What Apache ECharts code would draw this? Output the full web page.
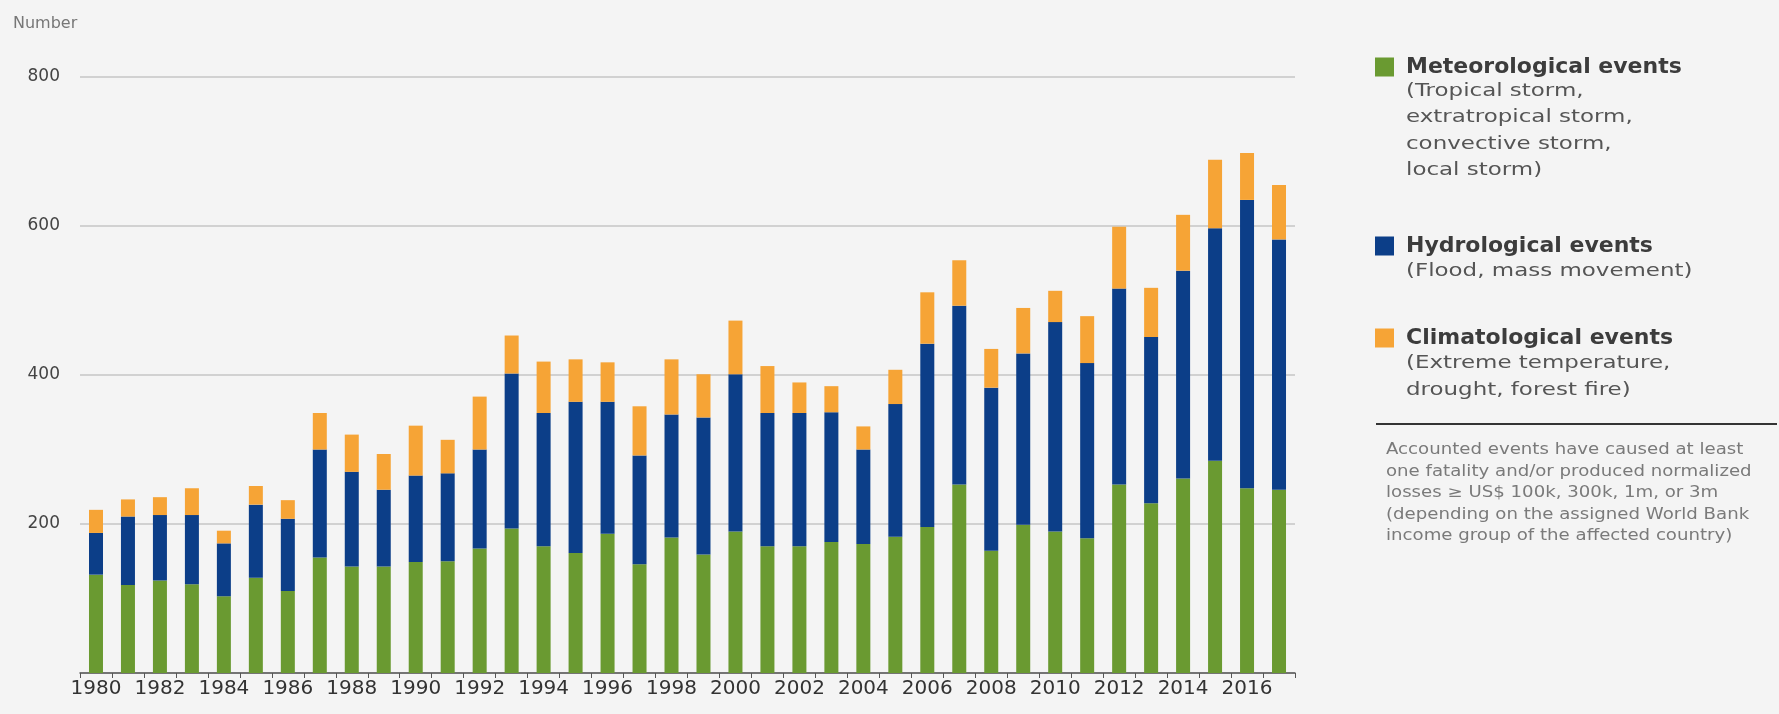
<!DOCTYPE html>
<html>
<head>
<meta charset="utf-8">
<script src="https://cdn.jsdelivr.net/npm/echarts@6/dist/echarts.min.js"></script>
<style>
html,body{margin:0;padding:0;background:#f4f4f4;}
#chart{width:1779px;height:714px;}
</style>
</head>
<body>
<div id="chart"></div>
<script>
const years = ['1980','1981','1982','1983','1984','1985','1986','1987','1988','1989','1990','1991','1992','1993','1994','1995','1996','1997','1998','1999','2000','2001','2002','2003','2004','2005','2006','2007','2008','2009','2010','2011','2012','2013','2014','2015','2016','2017'];
const meteorological = [132,118,124,119,103,128,110,155,143,143,149,150,167,194,170,161,187,146,182,159,190,170,170,176,173,183,196,253,164,199,190,181,253,228,261,285,248,246];
const hydrological = [56,92,88,93,71,98,97,145,127,103,116,118,133,208,179,203,177,146,165,184,211,179,179,174,127,178,246,240,219,230,281,235,263,223,279,312,387,336];
const climatological = [31,23,24,36,17,25,25,49,50,48,67,45,71,51,69,57,53,66,74,58,72,63,41,35,31,46,69,61,52,61,42,63,83,66,75,92,63,73];
const seriesNames = ['Meteorological events','Hydrological events','Climatological events'];
const seriesColors = ['#6a9a31','#0c3e88','#f6a436'];
const yTicks = [0,200,400,600,800];
const descriptions = [
  ['(Tropical storm,','extratropical storm,','convective storm,','local storm)'],
  ['(Flood, mass movement)'],
  ['(Extreme temperature,','drought, forest fire)']
];
const footnote = ['Accounted events have caused at least','one fatality and/or produced normalized','losses \u2265 US$ 100k, 300k, 1m, or 3m','(depending on the assigned World Bank','income group of the affected country)'];

const FONT = 'DejaVu Sans';
const chart = echarts.init(document.getElementById('chart'));

const legendTops = [66, 245, 337];
const descTops = [[92,118,145,171],[272],[364,391]];
const footTops = [450,472,493,515,536];

const graphics = [];
descriptions.forEach((lines,i)=>{
  lines.forEach((t,j)=>{
    graphics.push({type:'text', x:1406, y:descTops[i][j], scaleX:1.35, originX:0, originY:0,
      style:{text:t, fill:'#555', fontSize:17, fontFamily:FONT, verticalAlign:'middle', align:'left'}});
  });
});
graphics.push({type:'line', shape:{x1:1376,y1:424,x2:1777,y2:424}, style:{stroke:'#333',lineWidth:2}});
footnote.forEach((t,j)=>{
  graphics.push({type:'text', x:1386, y:footTops[j], scaleX:1.21, originX:0, originY:0,
    style:{text:t, fill:'#7a7a7a', fontSize:15, fontFamily:FONT, verticalAlign:'middle', align:'left'}});
});

const option = {
  backgroundColor:'#f4f4f4',
  animation:false,
  title:{text:'Number', left:8, top:11, textStyle:{fontSize:16, fontWeight:'normal', color:'#777', fontFamily:FONT}},
  legend: seriesNames.map((n,i)=>({
    data:[n], orient:'vertical', left:1375, top:legendTops[i]-10, padding:0,
    icon:'rect', itemWidth:19, itemHeight:19, selectedMode:false,
    textStyle:{fontSize:22, fontWeight:'bold', color:'#3c3c3c', fontFamily:FONT, padding:[0,0,0,7]}
  })),
  grid:{left:80, right:484, top:77, bottom:41, containLabel:false},
  xAxis:{
    type:'category', data:years, boundaryGap:true,
    axisLine:{lineStyle:{color:'#555', width:1.5}},
    axisTick:{show:true, interval:0, length:5, lineStyle:{color:'#555'}},
    axisLabel:{interval:1, fontSize:20, color:'#333', fontFamily:FONT, margin:6}
  },
  yAxis:{
    type:'value', min:yTicks[0], max:yTicks[yTicks.length-1], interval:200,
    axisLine:{show:false}, axisTick:{show:false},
    axisLabel:{fontSize:17, color:'#444', fontFamily:FONT, margin:20, formatter:v=> v===0 ? '' : String(v)},
    splitLine:{lineStyle:{color:'#c6c6c6', width:1.5}}
  },
  series:[
    {name:seriesNames[0], type:'bar', stack:'t', data:meteorological, barWidth:14, itemStyle:{color:seriesColors[0]}},
    {name:seriesNames[1], type:'bar', stack:'t', data:hydrological, barWidth:14, itemStyle:{color:seriesColors[1]}},
    {name:seriesNames[2], type:'bar', stack:'t', data:climatological, barWidth:14, itemStyle:{color:seriesColors[2]}}
  ],
  graphic: graphics
};
chart.setOption(option);
</script>
</body>
</html>
